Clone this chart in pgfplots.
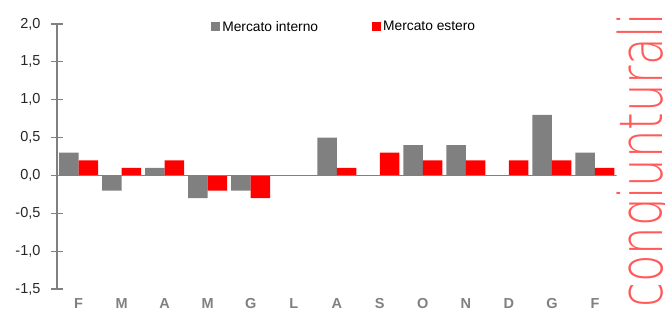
\documentclass[border=0pt]{standalone}
\usepackage{fontspec}
\setmainfont{Liberation Sans}
\newfontfamily\thinfont{DejaVuSans-ExtraLight.ttf}
\usepackage{pgfplots}
\pgfplotsset{compat=1.18}
\definecolor{bargray}{HTML}{808080}
\definecolor{barred}{HTML}{FF0000}
\definecolor{axgray}{HTML}{808080}
\pgfplotsset{sqlegend/.style={legend image code/.code={\fill[##1] (0pt,-4.5pt) rectangle (9pt,4.5pt);}}}
\begin{document}
\begin{tikzpicture}[x=1pt,y=1pt]
\begin{axis}[
  at={(0pt,0pt)}, anchor=south west,
  scale only axis,
  width=559.5pt, height=265pt,
  xmin=-0.5, xmax=12.5, ymin=-1.5, ymax=2,
  ybar=0pt, bar width=19.5pt,
  axis x line=bottom, axis y line=left, axis line style={-},
  x axis line style={draw=none},
  y axis line style={axgray, line width=1.6pt},
  ytick={-1.5,-1,-0.5,0,0.5,1,1.5,2},
  yticklabels={{-1,5},{-1,0},{-0,5},{0,0},{0,5},{1,0},{1,5},{2,0}},
  tick align=center, major tick length=12pt,
  ytick style={axgray, line width=1.2pt},
  xtick style={draw=none},
  xtick={0,...,12},
  xticklabels={F,M,A,M,G,L,A,S,O,N,D,G,F},
  xticklabel style={font=\fontsize{14.5}{16}\selectfont\bfseries, text=axgray},
  yticklabel style={font=\fontsize{14.5}{16}\selectfont, text=black!85, xshift=-7pt},
  legend columns=2,
  legend style={at={(0.27,0.989)}, anchor=west, draw=none, fill=none,
    font=\fontsize{13.8}{15}\selectfont,
    /tikz/every even column/.append style={column sep=52pt}},
]
\addplot[fill=bargray, draw=none, sqlegend] coordinates {
(0,0.3) (1,-0.2) (2,0.1) (3,-0.3) (4,-0.2) (5,0) (6,0.5) (7,0) (8,0.4) (9,0.4) (10,0) (11,0.8) (12,0.3)};
\addlegendentry{Mercato interno}
\addplot[fill=barred, draw=none, sqlegend] coordinates {
(0,0.2) (1,0.1) (2,0.2) (3,-0.2) (4,-0.3) (5,0) (6,0.1) (7,0.3) (8,0.2) (9,0.2) (10,0.2) (11,0.2) (12,0.1)};
\addlegendentry{Mercato estero}
\draw[axgray, line width=1.2pt] (axis cs:-0.5,0) -- (axis cs:12.5,0);
\end{axis}
\node[rotate=90, xscale=0.75, anchor=base east, inner sep=0pt, text=barred, text opacity=0.65, font=\fontsize{60}{66}\thinfont] at (605pt,276pt) {congiunturali};
\pgfresetboundingbox
\path[use as bounding box] (-57pt,-24pt) rectangle (608pt,289pt);
\end{tikzpicture}
\end{document}
